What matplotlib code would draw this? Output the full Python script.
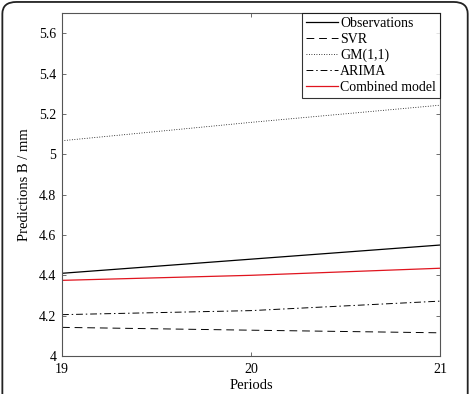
import matplotlib
matplotlib.use("Agg")
import matplotlib.pyplot as plt
from matplotlib.patches import FancyBboxPatch

plt.rcParams["font.family"] = ["Liberation Serif", "DejaVu Serif"]

periods = [19, 20, 21]
observations = [4.41, 4.48, 4.55]
svr = [4.142, 4.128, 4.115]
gm11 = [5.067, 5.158, 5.243]
arima = [4.205, 4.225, 4.272]
combined = [4.375, 4.400, 4.435]

yticks = [4, 4.2, 4.4, 4.6, 4.8, 5, 5.2, 5.4, 5.6]
ytick_labels = ["4", "4.2", "4.4", "4.6", "4.8", "5", "5.2", "5.4", "5.6"]

fig = plt.figure(figsize=(4.71, 3.94), dpi=100)

# rounded outer frame
frame = FancyBboxPatch((0.005, -0.05), 0.988, 1.045,
                       boxstyle="round,pad=0,rounding_size=0.03",
                       transform=fig.transFigure, facecolor="white",
                       edgecolor="#222222", linewidth=1.3, zorder=-10)
fig.patches.append(frame)

ax = fig.add_axes([0.1316, 0.0964, 0.8025, 0.8706])

ax.plot(periods, observations, color="black", linewidth=0.9, label="Observations")
ax.plot(periods, svr, color="black", linewidth=0.7, linestyle=(0, (8, 5)), label="SVR")
ax.plot(periods, gm11, color="black", linewidth=0.6, linestyle=(0, (1, 2)), label="GM(1,1)")
ax.plot(periods, arima, color="black", linewidth=0.7, linestyle=(0, (7, 3, 1.5, 3)), label="ARIMA")
ax.plot(periods, combined, color="#e0141e", linewidth=0.9, label="Combined model")

ax.set_xlim(19, 21)
ax.set_ylim(4, 5.7)
ax.set_xticks(periods)
ax.set_yticks(yticks)
ax.set_yticklabels(ytick_labels)
ax.tick_params(direction="in", top=True, right=True, length=3, width=0.6,
               labelsize=10, color="#555555", pad=4)
ax.tick_params(axis="x", pad=5)
for s in ax.spines.values():
    s.set_color("#555555")
    s.set_linewidth(0.8)

ax.set_xlabel("Periods", fontsize=10.5, labelpad=2)
ax.set_ylabel("Predictions B / mm", fontsize=10.5, labelpad=6)

leg = ax.legend(loc="upper right", fontsize=10, frameon=True, fancybox=False,
                borderaxespad=0, handlelength=2.3, handletextpad=0.15,
                labelspacing=0.2, borderpad=0.3)
leg.get_frame().set_edgecolor("black")
leg.get_frame().set_linewidth(0.8)

fig.savefig("out.png", dpi=100)
